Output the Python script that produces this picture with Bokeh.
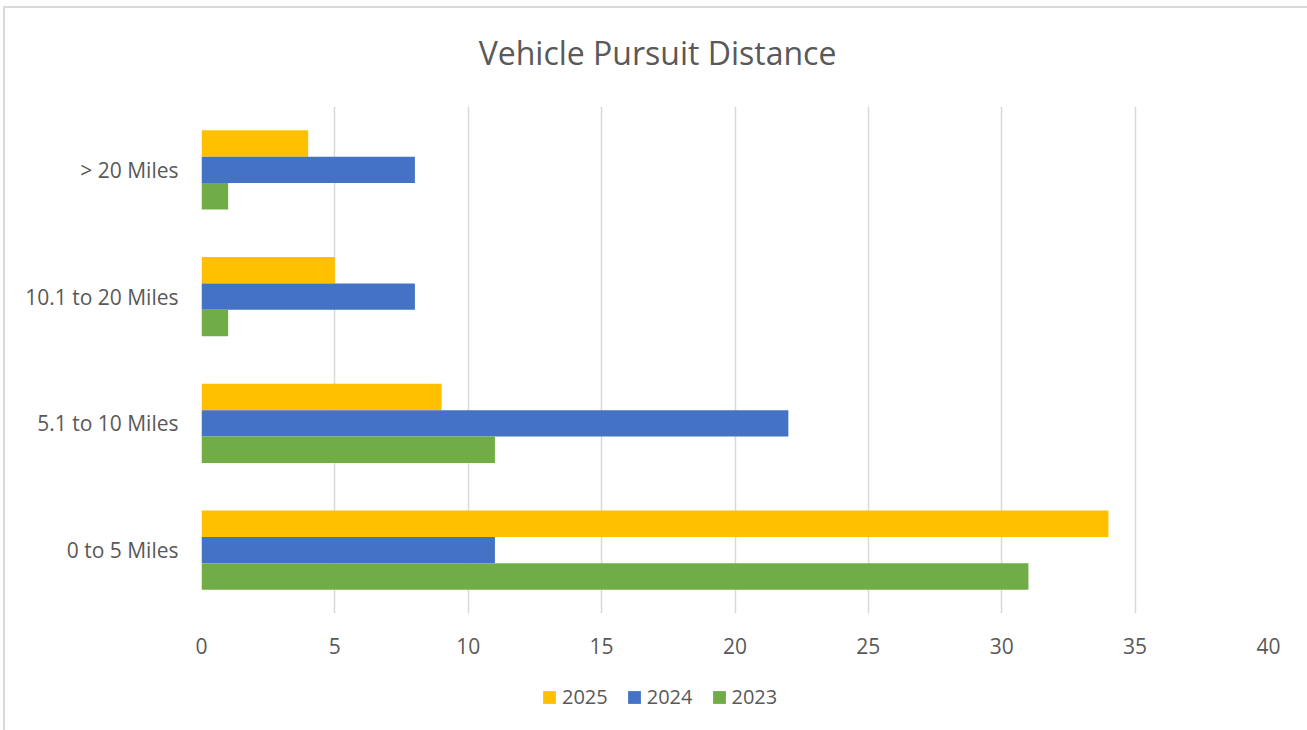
from bokeh.plotting import figure
from bokeh.layouts import column
from bokeh.models import FactorRange, Range1d, Legend, LegendItem, FixedTicker, Label
from bokeh.transform import dodge
from bokeh.embed import file_html
from bokeh.resources import INLINE
from bokeh.models import ColumnDataSource

title_text = "Vehicle Pursuit Distance"
categories = ["0 to 5 Miles", "5.1 to 10 Miles", "10.1 to 20 Miles", "> 20 Miles"]
series_names = ["2025", "2024", "2023"]
v2025 = [34, 9, 5, 4]
v2024 = [11, 22, 8, 8]
v2023 = [31, 11, 1, 1]
x_ticks = [0, 5, 10, 15, 20, 25, 30, 35, 40]

colors = {"2025": "#FFC000", "2024": "#4472C4", "2023": "#70AD47"}
offsets = {"2025": 0.208, "2024": 0.0, "2023": -0.208}

src = ColumnDataSource(dict(cat=categories, v2025=v2025, v2024=v2024, v2023=v2023))

FONT = "Open Sans"
GREY = "#595959"
W = 1306
BL, BR = 196, 43

def blank(h):
    f = figure(width=W, height=h, output_backend="svg", toolbar_location=None,
               x_range=Range1d(0, 1), y_range=Range1d(0, 1),
               x_axis_location=None, y_axis_location=None,
               min_border_left=BL, min_border_right=BR, min_border_top=0, min_border_bottom=0)
    f.grid.visible = False
    f.outline_line_color = None
    return f

# title strip
tf = blank(90)
tf.add_layout(Label(x=456, y=46, x_units="screen", y_units="screen", text=title_text,
                    text_align="center", text_baseline="middle", text_font=FONT,
                    text_font_size="32px", text_color=GREY))

# main chart
p = figure(width=W, height=570, output_backend="svg", toolbar_location=None,
           y_range=FactorRange(factors=categories), x_range=Range1d(0, 40),
           min_border_left=BL, min_border_right=BR, min_border_top=8, min_border_bottom=55)

for s in series_names:
    p.hbar(y=dodge("cat", offsets[s], range=p.y_range), right="v" + s, left=0,
           height=0.208, source=src, color=colors[s], line_color=None)

p.outline_line_color = None
p.ygrid.grid_line_color = None
p.xgrid.grid_line_color = "#d9d9d9"
p.xgrid.grid_line_width = 1.5
p.xaxis.ticker = FixedTicker(ticks=x_ticks)

for ax in (p.xaxis[0], p.yaxis[0]):
    ax.axis_line_color = None
    ax.major_tick_line_color = None
    ax.minor_tick_line_color = None
    ax.major_tick_out = 0
    ax.major_tick_in = 0
    ax.major_label_text_font = FONT
    ax.major_label_text_font_size = "21px"
    ax.major_label_text_color = GREY
p.xaxis.major_label_standoff = 24
p.yaxis.major_label_standoff = 23

# legend strip
lg = blank(76)
nan = float("nan")
swatch = ColumnDataSource(dict(l=[nan], r=[nan], b=[nan], t=[nan]))
items = []
for s in series_names:
    r = lg.quad(left="l", right="r", bottom="b", top="t", source=swatch,
                fill_color=colors[s], line_color=None)
    items.append(LegendItem(label=s, renderers=[r]))
legend = Legend(items=items, orientation="horizontal", location=(340, 34),
                label_text_font=FONT, label_text_font_size="20px", label_text_color=GREY,
                glyph_width=16, glyph_height=16, spacing=18, label_standoff=5,
                border_line_color=None, background_fill_alpha=0, margin=0, padding=0)
lg.add_layout(legend, "center")

layout = column(tf, p, lg, spacing=0,
                styles={"border": "2px solid #d9d9d9", "margin": "6px 0 0 3px",
                        "box-sizing": "content-box"})

open("out.html", "w").write(file_html(layout, INLINE))
